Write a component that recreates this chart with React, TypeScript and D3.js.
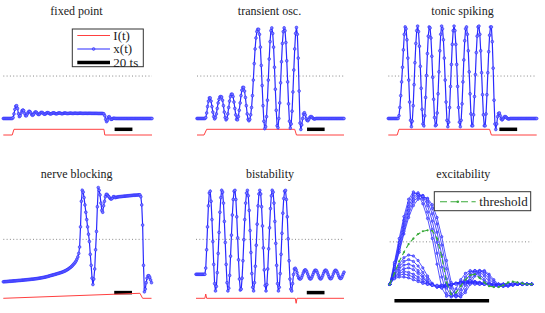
import React from 'react';
import * as d3 from 'd3';

// x(t), one sample per time step (rest = 0, spike peak ~ 1)
const fixedPointX = [
  0, 0, 0, 0, 0, 0, 0, 0, 0, 0,
  0, 0.01, 0.05, 0.1, 0.135, 0.14, 0.11, 0.05, 0.02, 0.03,
  0.06, 0.085, 0.093, 0.085, 0.055, 0.03, 0.03, 0.05, 0.07, 0.079,
  0.075, 0.06, 0.04, 0.035, 0.045, 0.062, 0.072, 0.07, 0.058, 0.045,
  0.043, 0.05, 0.064, 0.068, 0.064, 0.054, 0.047, 0.047, 0.055, 0.063,
  0.065, 0.06, 0.052, 0.049, 0.051, 0.058, 0.062, 0.061, 0.056, 0.051,
  0.051, 0.055, 0.06, 0.061, 0.058, 0.054, 0.052, 0.054, 0.058, 0.06,
  0.059, 0.056, 0.054, 0.055, 0.057, 0.059, 0.058, 0.056, 0.055, 0.056,
  0.058, 0.058, 0.057, 0.056, 0.056, 0.057, 0.058, 0.058, 0.057, 0.056,
  0.056, 0.057, 0.057, 0.057, 0.056, 0.056, 0.057, 0.057, 0.057, 0.056,
  0.056, 0.056, 0.056, 0.056, 0.056, 0.056, 0.055, 0.055, 0.055, 0.055,
  0.055, 0.055, 0.054, 0.05, 0.03, -0.01, -0.035, -0.02, 0.015, 0.02,
  0.005, -0.01, -0.008, 0, 0.003, 0.002, 0, 0, 0, 0,
  0, 0, 0, 0, 0, 0, 0, 0, 0, 0,
  0, 0, 0, 0, 0, 0, 0, 0, 0, 0,
  0, 0, 0, 0, 0, 0, 0, 0, 0, 0,
  0, 0, 0, 0, 0, 0, 0, 0,
];

const transientX = [
  0, 0, 0, 0, 0, 0, 0, 0, 0, 0,
  0.01, 0.06, 0.13, 0.19, 0.225, 0.225, 0.19, 0.13, 0.07, 0.02,
  -0.005, 0.01, 0.05, 0.11, 0.17, 0.21, 0.235, 0.24, 0.235, 0.2,
  0.14, 0.07, 0.01, -0.015, 0, 0.05, 0.12, 0.19, 0.24, 0.265,
  0.265, 0.24, 0.18, 0.11, 0.04, -0.01, -0.015, 0.02, 0.09, 0.17,
  0.25, 0.31, 0.34, 0.34, 0.3, 0.23, 0.14, 0.05, -0.01, -0.025,
  -0.01, 0.04, 0.12, 0.25, 0.42, 0.6, 0.76, 0.88, 0.95, 0.975,
  0.975, 0.92, 0.78, 0.58, 0.36, 0.14, -0.03, -0.11, -0.09, 0.02,
  0.2, 0.42, 0.65, 0.84, 0.96, 0.99, 0.93, 0.78, 0.56, 0.32,
  0.09, -0.08, -0.1, 0, 0.17, 0.39, 0.62, 0.82, 0.95, 0.99,
  0.96, 0.83, 0.63, 0.4, 0.16, -0.03, -0.105, -0.06, 0.08, 0.29,
  0.53, 0.76, 0.93, 0.995, 0.92, 0.66, 0.3, -0.05, -0.12, -0.07,
  0, 0.05, 0.063, 0.04, 0, -0.02, -0.025, -0.01, 0.01, 0.02,
  0.02, 0.01, 0, -0.005, -0.005, 0, 0, 0, 0, 0,
  0, 0, 0, 0, 0, 0, 0, 0, 0, 0,
  0, 0, 0, 0, 0, 0, 0, 0, 0, 0,
  0, 0, 0, 0, 0, 0, 0, 0,
];

const tonicX = [
  0, 0, 0, 0, 0, 0, 0, 0, 0, 0,
  0, 0, 0.03, 0.12, 0.25, 0.4, 0.56, 0.75, 0.92, 1.0,
  0.98, 0.86, 0.66, 0.42, 0.18, -0.02, -0.09, -0.03, 0.14, 0.37,
  0.61, 0.82, 0.96, 1.01, 0.95, 0.79, 0.57, 0.33, 0.1, -0.06,
  -0.08, 0.03, 0.23, 0.47, 0.71, 0.9, 1.0, 0.99, 0.88, 0.68,
  0.45, 0.21, 0.01, -0.08, -0.07, 0.06, 0.27, 0.51, 0.74, 0.92,
  1.01, 0.98, 0.86, 0.66, 0.42, 0.18, -0.02, -0.09, -0.04, 0.12,
  0.35, 0.59, 0.81, 0.96, 1.01, 0.96, 0.81, 0.59, 0.35, 0.12,
  -0.04, -0.09, -0.02, 0.16, 0.4, 0.64, 0.85, 0.98, 1.0, 0.92,
  0.74, 0.51, 0.27, 0.05, -0.08, -0.08, 0.04, 0.24, 0.48, 0.72,
  0.9, 1.0, 1.01, 0.92, 0.74, 0.5, 0.26, 0.04, -0.08, -0.08,
  0.05, 0.26, 0.5, 0.73, 0.91, 1.0, 1.0, 0.84, 0.55, 0.2,
  -0.06, -0.12, -0.06, 0.02, 0.055, 0.06, 0.03, -0.005, -0.016, -0.005,
  0.01, 0.02, 0.02, 0.01, 0, -0.005, -0.005, 0, 0, 0,
  0, 0, 0, 0, 0, 0, 0, 0, 0, 0,
  0, 0, 0, 0, 0, 0, 0, 0, 0, 0,
  0, 0, 0, 0, 0, 0, 0, 0,
];

const blockingX = [
  0, 0.001, 0.002, 0.002, 0.003, 0.004, 0.005, 0.006, 0.006, 0.007,
  0.008, 0.009, 0.01, 0.01, 0.011, 0.012, 0.013, 0.014, 0.015, 0.015,
  0.016, 0.017, 0.018, 0.019, 0.02, 0.021, 0.022, 0.023, 0.024, 0.025,
  0.026, 0.027, 0.028, 0.029, 0.03, 0.031, 0.033, 0.034, 0.035, 0.037,
  0.038, 0.04, 0.042, 0.043, 0.045, 0.047, 0.049, 0.051, 0.053, 0.056,
  0.058, 0.061, 0.064, 0.067, 0.07, 0.072, 0.075, 0.078, 0.08, 0.083,
  0.086, 0.089, 0.092, 0.095, 0.098, 0.101, 0.104, 0.108, 0.112, 0.116,
  0.121, 0.126, 0.132, 0.138, 0.145, 0.152, 0.16, 0.168, 0.178, 0.19,
  0.2, 0.213, 0.228, 0.248, 0.272, 0.31, 0.38, 0.6, 0.88, 1.0,
  0.98, 0.92, 0.84, 0.76, 0.68, 0.6, 0.52, 0.44, 0.3, 0.18,
  0.04, -0.03, 0.03, 0.14, 0.35, 0.55, 0.82, 1.03, 1.0, 0.95,
  0.86, 0.78, 0.76, 0.83, 0.88, 0.93, 0.956, 0.955, 0.94, 0.93,
  0.915, 0.905, 0.905, 0.915, 0.93, 0.93, 0.92, 0.922, 0.925, 0.927,
  0.929, 0.93, 0.931, 0.932, 0.933, 0.934, 0.935, 0.936, 0.937, 0.938,
  0.939, 0.94, 0.941, 0.942, 0.943, 0.944, 0.945, 0.946, 0.946, 0.947,
  0.948, 0.948, 0.949, 0.95, 0.95, 0.93, 0.84, 0.62, 0.18, -0.11,
  -0.08, -0.01, 0.04, 0.065, 0.067, 0.05, 0.02, -0.01,
];

const bistableX = [
  0.082, 0.082, 0.082, 0.082, 0.082, 0.082, 0.082, 0.082, 0.082, 0.082,
  0.082, 0.15, 0.35, 0.6, 0.83, 0.97, 0.99, 0.88, 0.68, 0.44,
  0.19, -0.02, -0.1, -0.05, 0.1, 0.31, 0.54, 0.76, 0.92, 1.0,
  0.98, 0.86, 0.66, 0.43, 0.19, -0.01, -0.1, -0.07, 0.07, 0.28,
  0.51, 0.73, 0.9, 0.99, 1.0, 0.9, 0.71, 0.48, 0.24, 0.03,
  -0.09, -0.08, 0.04, 0.23, 0.46, 0.68, 0.86, 0.97, 1.0, 0.94,
  0.78, 0.56, 0.32, 0.09, -0.06, -0.1, -0.01, 0.17, 0.4, 0.63,
  0.83, 0.96, 1.0, 0.96, 0.82, 0.61, 0.37, 0.13, -0.04, -0.1,
  -0.03, 0.14, 0.36, 0.59, 0.8, 0.94, 1.0, 0.98, 0.86, 0.66,
  0.42, 0.18, -0.02, -0.1, -0.06, 0.09, 0.3, 0.53, 0.75, 0.91,
  0.99, 1.0, 0.9, 0.71, 0.47, 0.23, 0.03, -0.08, -0.1, -0.02,
  0.08, 0.14, 0.148, 0.13, 0.1, 0.065, 0.04, 0.03, 0.032, 0.045,
  0.07, 0.097, 0.12, 0.13, 0.127, 0.11, 0.085, 0.058, 0.038, 0.03,
  0.036, 0.055, 0.08, 0.105, 0.123, 0.128, 0.12, 0.1, 0.073, 0.048,
  0.033, 0.032, 0.045, 0.068, 0.095, 0.117, 0.128, 0.124, 0.107, 0.082,
  0.056, 0.038, 0.032, 0.04, 0.06, 0.087, 0.11, 0.125, 0.125, 0.112,
  0.09, 0.064, 0.043, 0.035, 0.04, 0.058, 0.083, 0.105,
];

// input current I(t): breakpoints (time step, level)
const fixedPointIT = [0, 10, 12, 113, 114, 167];
const transientIT = [0, 8, 11, 111, 113, 167];
const tonicIT = [0, 10, 12, 114, 116, 167];
const stepI = [0, 0, 1, 1, 0, 0];
const blockingIT = [0, 154, 157, 167];
const blockingI = [0, 0.88, 0, 0];
const bistableIT = [0, 10, 11, 12, 112, 113, 114, 167];
const bistableI = [0, 0, 0.75, 0, 0, -0.88, 0, 0];

// excitability: responses to pulses of growing size
const excRun1 = [0, 0.24, 0.5, 0.74, 0.93, 1.01, 0.98, 0.88, 0.72, 0.5, 0.22, -0.04, -0.13, -0.12, -0.05, 0.05, 0.12, 0.15, 0.13, 0.08, 0.03, -0.01, -0.02, -0.02, -0.01, 0, 0.01, 0.01, 0, 0, 0];
const excRun2 = [0, 0.22, 0.46, 0.7, 0.89, 0.99, 1.0, 0.93, 0.79, 0.6, 0.34, 0.08, -0.1, -0.14, -0.1, -0.01, 0.08, 0.14, 0.15, 0.11, 0.05, 0, -0.02, -0.02, -0.01, 0, 0.01, 0.01, 0, 0, 0];
const excRun3 = [0, 0.2, 0.43, 0.66, 0.85, 0.96, 0.99, 0.96, 0.86, 0.69, 0.46, 0.19, -0.04, -0.13, -0.13, -0.06, 0.04, 0.11, 0.15, 0.14, 0.09, 0.03, -0.01, -0.02, -0.02, -0.01, 0, 0.01, 0.01, 0, 0];
const excRun4 = [0, 0.18, 0.4, 0.62, 0.81, 0.93, 0.98, 0.97, 0.9, 0.77, 0.57, 0.32, 0.06, -0.1, -0.14, -0.1, -0.01, 0.08, 0.14, 0.15, 0.12, 0.06, 0.01, -0.02, -0.02, -0.01, 0, 0.01, 0.01, 0, 0];
const excRun5 = [0, 0.17, 0.37, 0.58, 0.77, 0.9, 0.96, 0.97, 0.93, 0.83, 0.66, 0.43, 0.17, -0.04, -0.13, -0.13, -0.06, 0.04, 0.11, 0.15, 0.14, 0.09, 0.03, -0.01, -0.02, -0.02, -0.01, 0, 0.01, 0, 0];
const excRun6 = [0, 0.16, 0.35, 0.55, 0.73, 0.86, 0.93, 0.95, 0.94, 0.87, 0.73, 0.52, 0.26, 0.02, -0.12, -0.14, -0.09, 0, 0.09, 0.14, 0.15, 0.11, 0.05, 0, -0.02, -0.02, -0.01, 0, 0.01, 0, 0];
const excRun7 = [0, 0.12, 0.22, 0.29, 0.32, 0.31, 0.26, 0.18, 0.09, 0.01, -0.03, -0.04, -0.03, -0.01, 0.01, 0.03, 0.04, 0.04, 0.03, 0.02, 0.01, 0, -0.01, -0.01, -0.01, 0, 0, 0, 0, 0, 0];
const excRun8 = [0, 0.11, 0.19, 0.25, 0.27, 0.25, 0.2, 0.13, 0.06, 0, -0.03, -0.03, -0.02, -0.01, 0.01, 0.02, 0.03, 0.03, 0.03, 0.02, 0.01, 0, 0, -0.01, 0, 0, 0, 0, 0, 0, 0];
const excRun9 = [0, 0.1, 0.17, 0.21, 0.22, 0.2, 0.15, 0.09, 0.03, -0.01, -0.03, -0.03, -0.02, 0, 0.01, 0.02, 0.03, 0.03, 0.02, 0.01, 0.01, 0, 0, 0, 0, 0, 0, 0, 0, 0, 0];
const excRun10 = [0, 0.09, 0.14, 0.17, 0.18, 0.16, 0.12, 0.07, 0.02, -0.01, -0.02, -0.02, -0.01, 0, 0.01, 0.02, 0.02, 0.02, 0.02, 0.01, 0, 0, 0, 0, 0, 0, 0, 0, 0, 0, 0];
const excRun11 = [0, 0.08, 0.12, 0.14, 0.13, 0.11, 0.08, 0.04, 0.01, -0.01, -0.02, -0.02, -0.01, 0, 0.01, 0.01, 0.02, 0.02, 0.01, 0.01, 0, 0, 0, 0, 0, 0, 0, 0, 0, 0, 0];
const excRun12 = [0, 0.07, 0.1, 0.11, 0.1, 0.08, 0.05, 0.02, 0, -0.01, -0.02, -0.01, -0.01, 0, 0.01, 0.01, 0.01, 0.01, 0.01, 0, 0, 0, 0, 0, 0, 0, 0, 0, 0, 0, 0];
const excRun13 = [0, 0.06, 0.08, 0.08, 0.07, 0.05, 0.03, 0.01, 0, -0.01, -0.01, -0.01, 0, 0, 0, 0.01, 0.01, 0.01, 0, 0, 0, 0, 0, 0, 0, 0, 0, 0, 0, 0, 0];
const excRuns = [excRun7, excRun8, excRun9, excRun10, excRun11, excRun12, excRun13, excRun6, excRun5, excRun4, excRun3, excRun2, excRun1];
const thresholdRun = [0, 0.12, 0.25, 0.35, 0.44, 0.5, 0.55, 0.58, 0.59, 0.585, 0.5, 0.3, 0.02, -0.11, -0.09, -0.02, 0.05, 0.1, 0.11, 0.07, 0.02, -0.02, -0.03, -0.03, -0.01, 0.02, 0.03, 0.02, 0.01, 0, 0];

const THRESHOLD = 0.464;
const BAR_START = 125;
const BAR_LEN = 20;
const EXC_BAR_START = 1;

const legendLabels = ['I(t)', 'x(t)', '20 ts'];

const FONT = 'Liberation Serif';
const BLUE = '#2a2aff';
const RED = '#ff4040';
const GREEN = '#3aaa3a';

const panels = [
  { title: 'fixed point', xs: fixedPointX, it: fixedPointIT, iv: stepI, left: 3.3, right: 152, base: 118.5, tx: 76.5, ty: 15 },
  { title: 'transient osc.', xs: transientX, it: transientIT, iv: stepI, left: 197, right: 344, base: 118.5, tx: 269.5, ty: 15 },
  { title: 'tonic spiking', xs: tonicX, it: tonicIT, iv: stepI, left: 388.3, right: 536.7, base: 118.5, tx: 462.5, ty: 15 },
  { title: 'nerve blocking', xs: blockingX, it: blockingIT, iv: blockingI, left: 3.3, right: 151.5, base: 281.8, tx: 76.7, ty: 178 },
  { title: 'bistability', xs: bistableX, it: bistableIT, iv: bistableI, left: 196, right: 344, base: 281.8, tx: 270, ty: 178 },
];

type Spec = typeof panels[number];

function Markers({ data, x, y, r = 1.4 }: { data: number[]; x: (i: number) => number; y: (v: number) => number; r?: number }) {
  return (
    <g fill="#7a7aff" stroke="#1a1aff" strokeWidth={0.5}>
      {data.map((d, i) => <circle key={i} cx={x(i)} cy={y(d)} r={r} />)}
    </g>
  );
}

function TracePanel({ p }: { p: Spec }) {
  const x = d3.scaleLinear().domain([0, p.xs.length - 1]).range([p.left, p.right]);
  const y = d3.scaleLinear().domain([0, 1]).range([p.base, p.base - 91.5]);
  const yi = d3.scaleLinear().domain([0, 1]).range([p.base + 16.5, p.base + 10.8]);
  const trace = d3.line<number>().x((_, i) => x(i)).y(d => y(d));
  const current = d3.line<number>().x((_, i) => x(p.it[i])).y(d => yi(d));
  return (
    <g>
      <text x={p.tx} y={p.ty} textAnchor="middle" fontFamily={FONT} fontSize={12} fill="#222">{p.title}</text>
      <line x1={p.left} x2={p.right} y1={y(THRESHOLD)} y2={y(THRESHOLD)} stroke="#888" strokeDasharray="1 2.3" />
      <line x1={x(BAR_START)} x2={x(BAR_START + BAR_LEN)} y1={yi(1)} y2={yi(1)} stroke="#000" strokeWidth={3.5} />
      <path d={current(p.iv) ?? ''} fill="none" stroke={RED} strokeWidth={1} />
      <path d={trace(p.xs) ?? ''} fill="none" stroke={BLUE} strokeWidth={1.2} />
      <Markers data={p.xs} x={x} y={y} />
    </g>
  );
}

function ExcitabilityPanel() {
  const x = d3.scaleLinear().domain([0, thresholdRun.length - 1]).range([389.7, 531.7]);
  const y = d3.scaleLinear().domain([0, 1]).range([284.3, 192.8]);
  const yi = d3.scaleLinear().domain([0, 1]).range([300.8, 295.1]);
  const trace = d3.line<number>().x((_, i) => x(i)).y(d => y(d));
  return (
    <g>
      <text x={463.3} y={178} textAnchor="middle" fontFamily={FONT} fontSize={12} fill="#222">excitability</text>
      <line x1={389.7} x2={531.7} y1={y(THRESHOLD)} y2={y(THRESHOLD)} stroke="#888" strokeDasharray="1 2.3" />
      <line x1={x(EXC_BAR_START)} x2={x(EXC_BAR_START + BAR_LEN)} y1={yi(0)} y2={yi(0)} stroke="#000" strokeWidth={3.5} />
      {excRuns.map((run, k) => (
        <g key={k}>
          <path d={trace(run) ?? ''} fill="none" stroke={BLUE} strokeWidth={0.8} />
          <Markers data={run} x={x} y={y} r={1.2} />
        </g>
      ))}
      <path d={trace(thresholdRun) ?? ''} fill="none" stroke={GREEN} strokeWidth={1.1} strokeDasharray="5 3" />
      <g fill={GREEN}>
        {thresholdRun.map((d, i) => <circle key={i} cx={x(i)} cy={y(d)} r={1.1} />)}
      </g>
      <rect x={434.3} y={191.7} width={96.4} height={19} fill="#fff" stroke="#333" strokeWidth={1} />
      <line x1={440} x2={475.7} y1={201.7} y2={201.7} stroke={GREEN} strokeWidth={1.1} strokeDasharray="7 3.5" />
      <circle cx={457.8} cy={201.7} r={1.3} fill={GREEN} />
      <text x={479.3} y={205.8} fontFamily={FONT} fontSize={13} fill="#222">threshold</text>
    </g>
  );
}

function Legend() {
  const rows = [35.5, 49, 62.5];
  return (
    <g>
      <rect x={72.3} y={29} width={71} height={37.7} fill="#fff" stroke="#333" strokeWidth={1} />
      <line x1={77.3} x2={110} y1={rows[0]} y2={rows[0]} stroke={RED} strokeWidth={1} />
      <line x1={77.3} x2={110} y1={rows[1]} y2={rows[1]} stroke={BLUE} strokeWidth={1.2} />
      <circle cx={93.6} cy={rows[1]} r={1.4} fill="#7a7aff" stroke="#1a1aff" strokeWidth={0.5} />
      <line x1={77.3} x2={110} y1={rows[2]} y2={rows[2]} stroke="#000" strokeWidth={3.5} />
      {legendLabels.map((s, i) => (
        <text key={s} x={113.3} y={rows[i] + 4} fontFamily={FONT} fontSize={13} fill="#222">{s}</text>
      ))}
    </g>
  );
}

export default function App() {
  return (
    <svg width={545} height={313} style={{ position: 'absolute', left: 0, top: 0, background: '#fff' }}>
      {panels.map(p => <TracePanel key={p.title} p={p} />)}
      <ExcitabilityPanel />
      <Legend />
    </svg>
  );
}
